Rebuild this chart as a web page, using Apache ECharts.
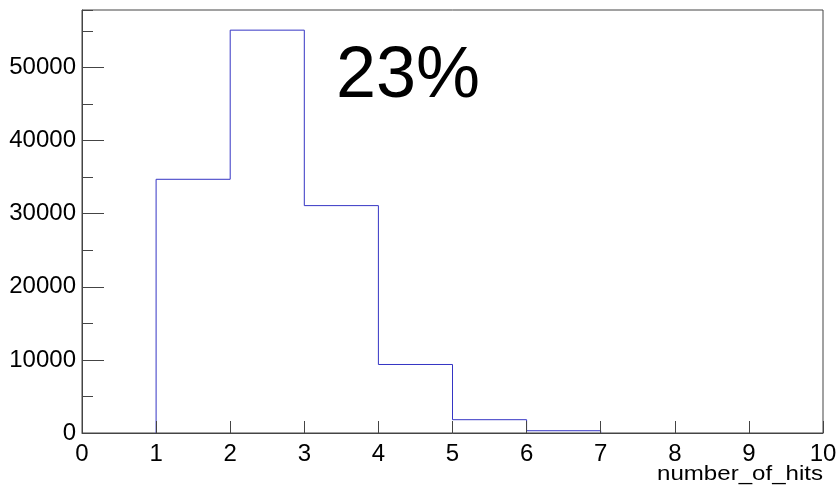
<!DOCTYPE html>
<html>
<head>
<meta charset="utf-8">
<title>number_of_hits</title>
<script src="https://cdn.jsdelivr.net/npm/echarts@6/dist/echarts.min.js"></script>
<style>
  html, body { margin: 0; padding: 0; background: #ffffff; }
  #chart { width: 838px; height: 486px; }
</style>
</head>
<body>
<div id="chart"></div>
<script>
// Histogram of hits per event: bin edges and the count in each bin
const binEdges = [0, 1, 2, 3, 4, 5, 6, 7, 8, 9, 10];
const counts = [0, 34700, 55100, 31100, 9370, 1820, 310, 0, 0, 0];
const xTickLabels = ['0', '1', '2', '3', '4', '5', '6', '7', '8', '9', '10'];
const yTickLabels = ['0', '10000', '20000', '30000', '40000', '50000'];
const axisTitle = 'number_of_hits';
const annotation = '23%';

const FONT = '"Liberation Sans", Arial, Helvetica, sans-serif';
const LINE = '#444444';

// Outline of the filled bins, drawn as a step line across the bin edges
function histogramOutline(edges, values) {
  let first = 0, last = values.length - 1;
  while (first < values.length && values[first] === 0) first++;
  while (last > first && values[last] === 0) last--;
  const pts = [[edges[first], 0]];
  for (let i = first; i <= last; i++) pts.push([edges[i], values[i]]);
  pts.push([edges[last + 1], 0]);
  return pts;
}

const yMax = Math.max(...counts) * 1.05;

const chart = echarts.init(document.getElementById('chart'), null, { renderer: 'canvas' });
chart.setOption({
  animation: false,
  backgroundColor: '#ffffff',
  grid: {
    left: 82, right: 15, top: 10, bottom: 53,
    outerBoundsMode: 'none',
    containLabel: false,
    show: true, borderColor: LINE, borderWidth: 1, backgroundColor: 'transparent'
  },
  xAxis: {
    type: 'value',
    min: binEdges[0],
    max: binEdges[binEdges.length - 1],
    interval: 1,
    z: 5,
    axisLine: { show: true, lineStyle: { color: LINE, width: 1 } },
    axisTick: { show: true, inside: true, length: 12, lineStyle: { color: LINE, width: 1 } },
    splitLine: { show: false },
    axisLabel: {
      margin: 9, fontFamily: FONT, fontSize: 24, color: '#000',
      formatter: (v) => xTickLabels[Math.round(v)]
    }
  },
  yAxis: [
    {
      type: 'value',
      min: 0,
      max: yMax,
      interval: 10000,
      z: 5,
      axisLine: { show: true, lineStyle: { color: LINE, width: 1 } },
      axisTick: { show: true, inside: true, length: 22, lineStyle: { color: LINE, width: 1 } },
      splitLine: { show: false },
      axisLabel: {
        margin: 6, fontFamily: FONT, fontSize: 24, color: '#000',
        showMaxLabel: false,
        formatter: (v) => yTickLabels[Math.round(v / 10000)] ?? ''
      }
    },
    {
      // minor ticks every 5000
      type: 'value',
      position: 'left',
      min: 0,
      max: yMax,
      interval: 5000,
      z: 5,
      axisLine: { show: false },
      axisTick: { show: true, inside: true, length: 11, lineStyle: { color: LINE, width: 1 } },
      splitLine: { show: false },
      axisLabel: { show: false }
    }
  ],
  series: [
    {
      type: 'line',
      step: 'end',
      symbol: 'none',
      z: 2,
      lineStyle: { color: '#3535c4', width: 1 },
      data: histogramOutline(binEdges, counts)
    }
  ],
  graphic: [
    {
      type: 'text',
      left: 336,
      top: 41,
      style: {
        text: annotation,
        fontFamily: FONT,
        fontSize: 72,
        fill: '#000'
      }
    },
    {
      // x-axis title, stretched wide and ending at the axis end
      type: 'text',
      x: 657,
      y: 464,
      scaleX: 1.175,
      style: {
        text: axisTitle,
        fontFamily: FONT,
        fontSize: 20.5,
        verticalAlign: 'top',
        fill: '#000'
      }
    }
  ]
});
</script>
</body>
</html>
